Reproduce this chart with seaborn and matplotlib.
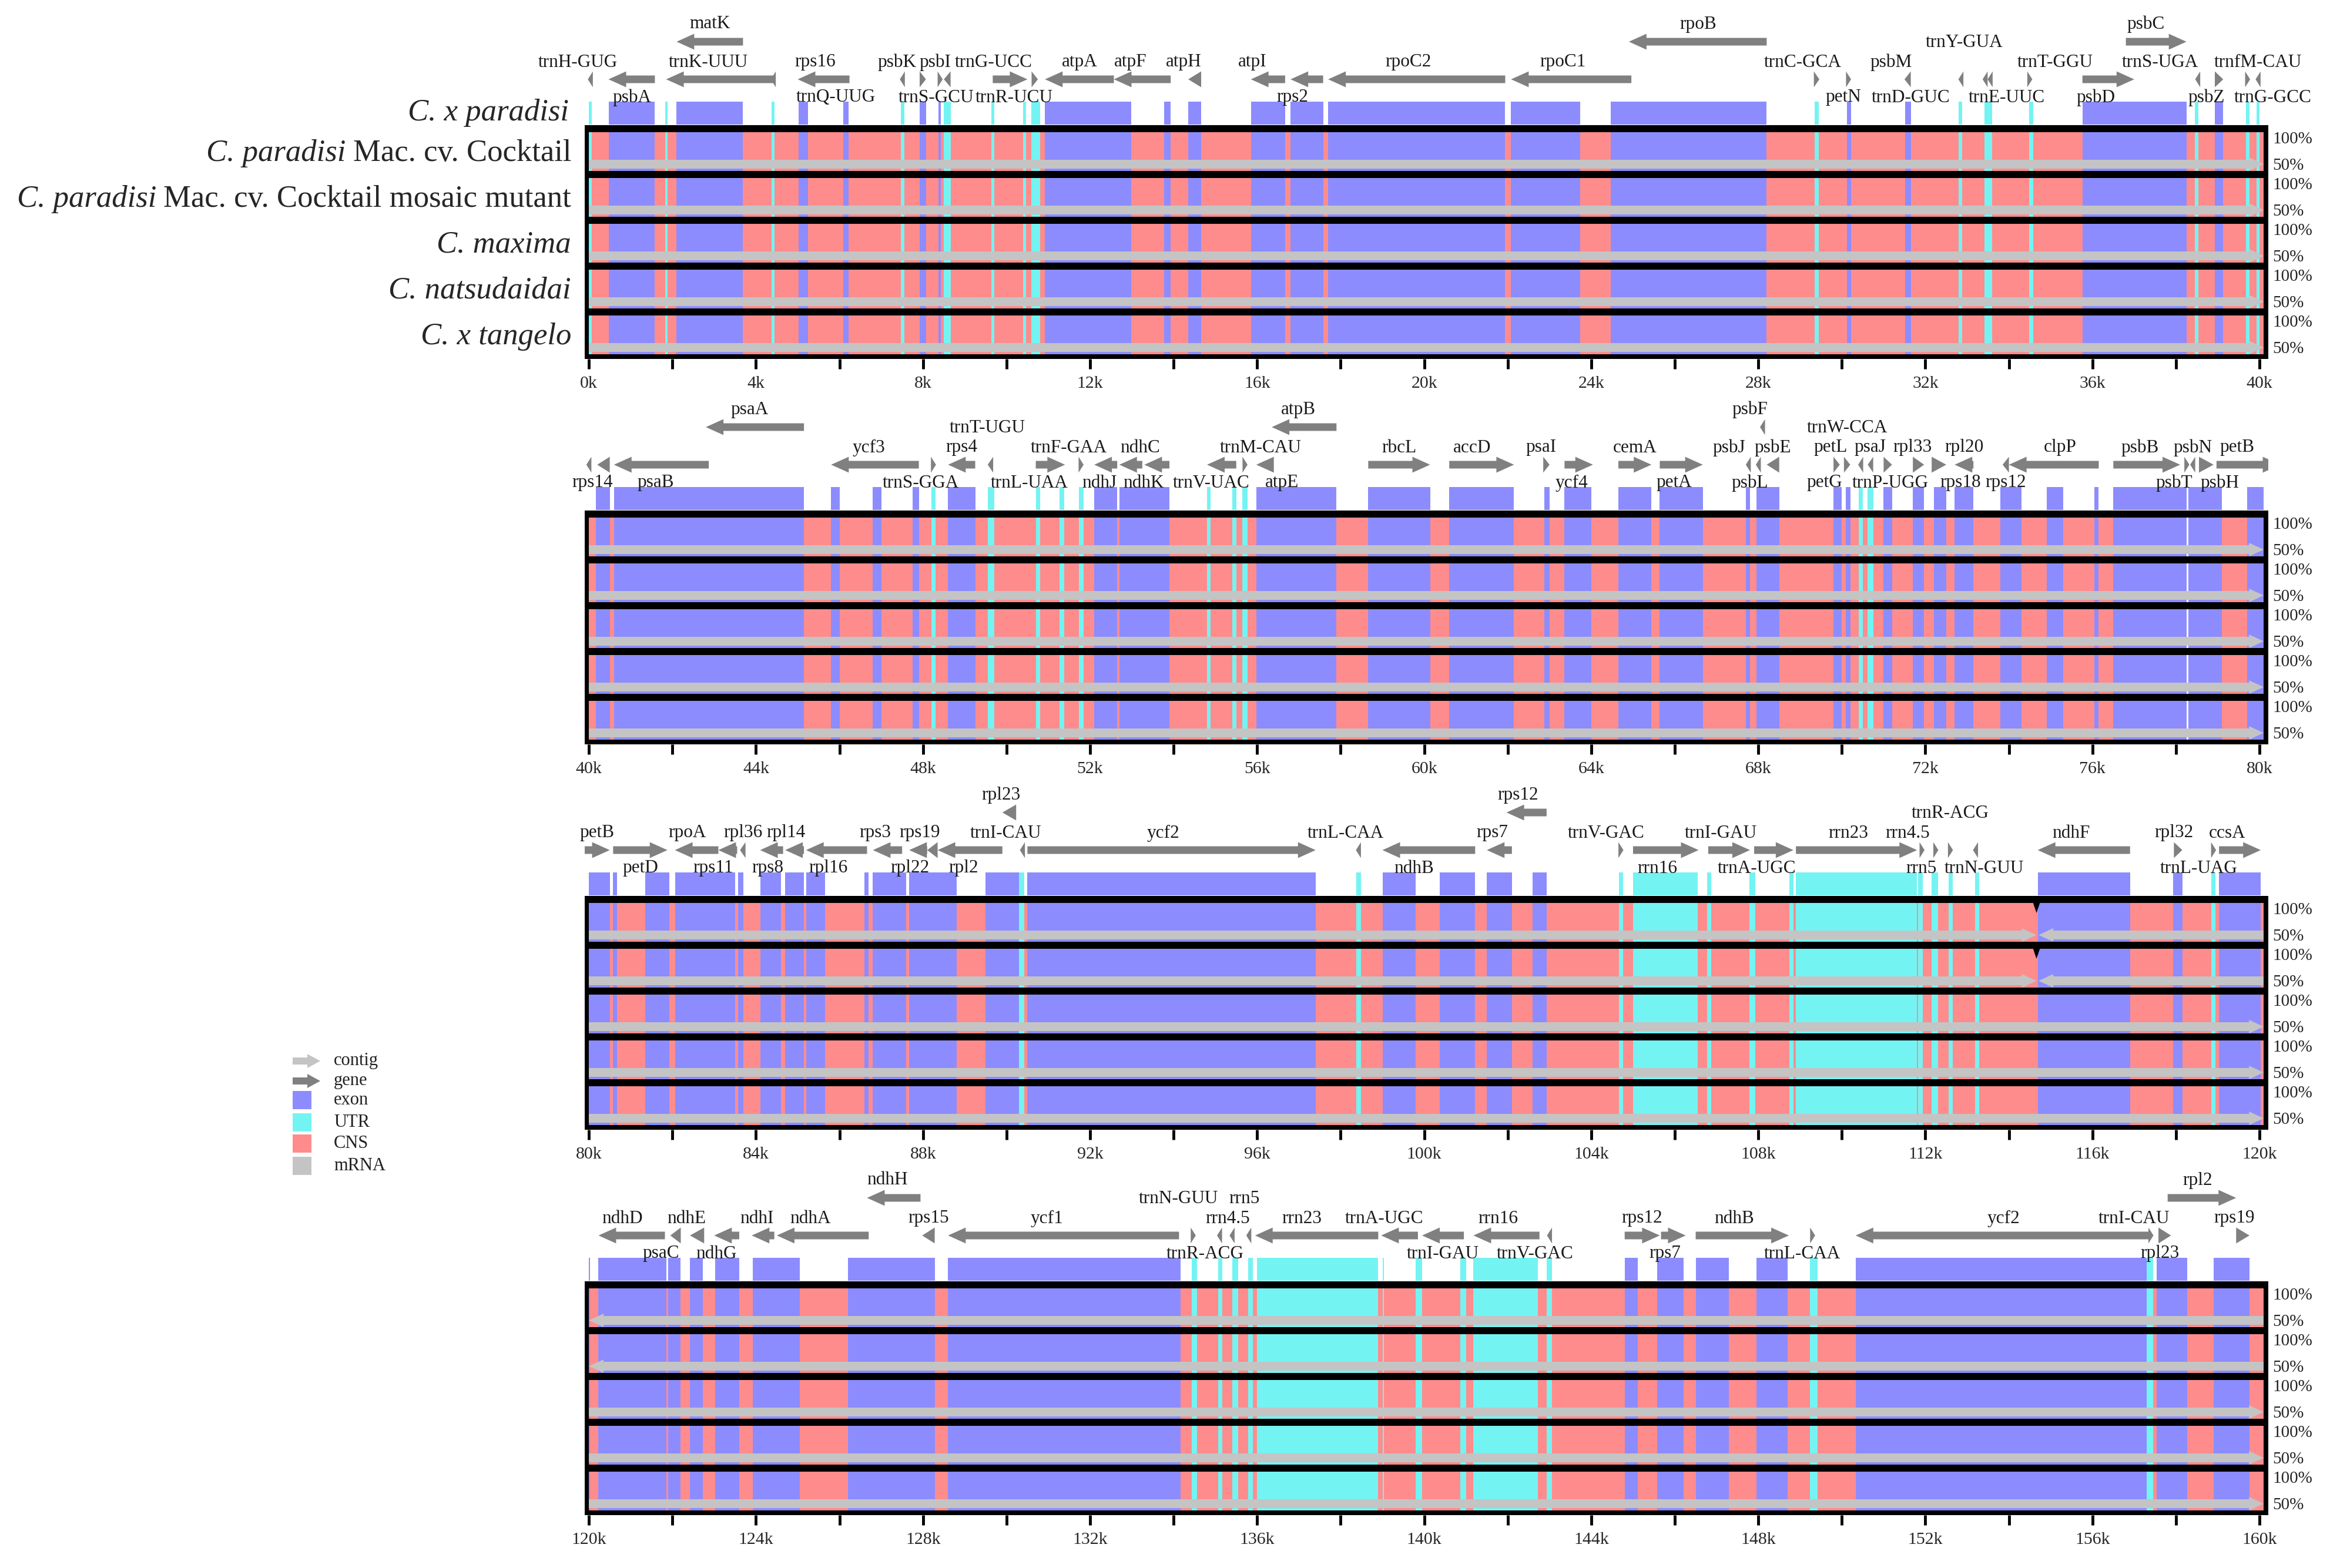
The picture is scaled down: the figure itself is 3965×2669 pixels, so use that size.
import matplotlib
matplotlib.use("Agg")
import matplotlib.pyplot as plt
from matplotlib.patches import Polygon, Rectangle
import numpy as np
import seaborn as sns

# ---------------- data (positions in kb) ----------------
PANEL_STARTS = [0, 40, 80, 120]
REFERENCE = "C. x paradisi"
SPECIES = [("C. paradisi", "Mac. cv. Cocktail"),
           ("C. paradisi", "Mac. cv. Cocktail mosaic mutant"),
           ("C. maxima", ""),
           ("C. natsudaidai", ""),
           ("C. x tangelo", "")]
LEGEND_LABELS = ["contig", "gene", "exon", "UTR", "CNS", "mRNA"]

EXONS = [
    (0.47, 1.57), (2.1, 3.69), (5.02, 5.25), (6.09, 6.22), (7.92, 8.07), (8.37, 8.43),
    (10.92, 12.99), (13.77, 13.93), (14.35, 14.66), (15.85, 16.67), (16.8, 17.58),
    (17.7, 21.94), (22.08, 23.73), (24.47, 28.2), (30.12, 30.22), (31.52, 31.65),
    (35.76, 38.25), (38.93, 39.13),
    (40.17, 40.5), (40.6, 45.15), (45.8, 46.0), (46.8, 47.0), (47.75, 47.9), (48.6, 49.25),
    (52.1, 52.65), (52.7, 53.9), (55.98, 57.9), (58.66, 60.14), (60.6, 62.15), (62.87, 63.0),
    (63.36, 64.0), (64.65, 65.44), (65.64, 66.67), (67.7, 67.8), (67.95, 68.5), (69.8, 70.0),
    (70.1, 70.2), (71.0, 71.2), (71.7, 71.97), (72.2, 72.5), (72.7, 73.15), (73.8, 74.3),
    (74.9, 75.3), (76.05, 76.15), (76.5, 78.25), (78.3, 79.1), (79.7, 80.5),
    (80.58, 80.67), (81.35, 81.92), (82.06, 83.5), (83.57, 83.7), (84.1, 84.6), (84.7, 85.15),
    (85.2, 85.65), (86.6, 86.7), (86.8, 87.6), (87.67, 88.8), (89.5, 90.3), (90.5, 97.4),
    (99.0, 99.8), (100.37, 101.22), (101.5, 102.1), (102.6, 102.93), (114.69, 116.9),
    (117.93, 118.15), (119.03, 120.03),
    (120.23, 121.85), (121.9, 122.2), (122.42, 122.73), (123.03, 123.6), (123.92, 125.05),
    (126.2, 128.28), (128.6, 134.16), (144.8, 145.12), (145.58, 146.21), (146.5, 147.3),
    (147.95, 148.7), (150.33, 157.3), (157.54, 158.27), (158.9, 159.76),
]

UTRS = [
    (0.0, 0.07), (1.83, 1.89), (4.38, 4.45), (7.47, 7.56), (8.5, 8.66), (9.64, 9.7),
    (10.4, 10.46), (10.6, 10.8), (29.35, 29.45), (32.79, 32.88), (33.41, 33.6),
    (34.49, 34.58), (38.45, 38.54), (39.68, 39.76), (39.93, 40.0),
    (48.2, 48.3), (49.55, 49.7), (50.7, 50.8), (51.27, 51.38), (51.73, 51.84),
    (54.8, 54.88), (55.4, 55.5), (55.65, 55.77), (70.4, 70.5), (70.62, 70.75),
    (90.3, 90.43), (98.37, 98.48), (104.66, 104.76), (105.0, 106.55), (106.77, 106.87),
    (107.79, 107.93), (108.74, 108.84), (108.9, 111.8), (111.83, 111.93), (112.15, 112.3),
    (112.55, 112.65), (113.19, 113.29), (118.85, 118.95),
    (134.43, 134.56), (135.07, 135.17), (135.4, 135.55), (135.79, 135.9), (136.0, 138.9),
    (139.0, 139.04), (139.8, 139.95), (140.86, 141.0), (141.18, 142.72), (142.93, 143.06),
    (149.24, 149.42), (157.3, 157.45),
]

GAPS = [(78.25, 78.3)]

CONTIG_BREAK = 114.66
REVERSED_TRACKS = [0, 1]

# (name, start, end, strand, arrow row, label level)
GENES_P1 = [
    ("trnH-GUG", 0.0, 0.07, -1, "lo", "above"), ("psbA", 0.47, 1.58, -1, "lo", "below"),
    ("trnK-UUU", 1.85, 4.46, -1, "lo", "above"), ("matK", 2.1, 3.69, -1, "up", "top"),
    ("trnQ-UUG", 4.38, 4.45, -1, "lo", "below"), ("rps16", 5.0, 6.24, -1, "lo", "above"),
    ("psbK", 7.45, 7.56, -1, "lo", "above"), ("psbI", 7.92, 8.07, 1, "lo", "above"),
    ("trnS-GCU", 8.37, 8.45, 1, "lo", "below"), ("", 8.5, 8.66, -1, "lo", "below"),
    ("trnG-UCC", 9.67, 10.5, 1, "lo", "above"), ("trnR-UCU", 10.6, 10.75, 1, "lo", "below"),
    ("atpA", 10.92, 12.57, -1, "lo", "above"), ("atpF", 12.57, 13.93, -1, "lo", "above"),
    ("atpH", 14.35, 14.66, -1, "lo", "above"), ("atpI", 15.85, 16.67, -1, "lo", "above"),
    ("rps2", 16.8, 17.58, -1, "lo", "below"), ("rpoC2", 17.7, 21.94, -1, "lo", "above"),
    ("rpoC1", 22.08, 24.96, -1, "lo", "above"), ("rpoB", 24.9, 28.2, -1, "up", "top"),
    ("trnC-GCA", 29.33, 29.46, 1, "lo", "above"), ("petN", 30.1, 30.22, 1, "lo", "below"),
    ("psbM", 31.5, 31.65, -1, "lo", "above"), ("trnD-GUC", 32.8, 32.9, -1, "lo", "below"),
    ("trnY-GUA", 33.38, 33.48, -1, "lo", "high"), ("trnE-UUC", 33.5, 33.6, -1, "lo", "below"),
    ("trnT-GGU", 34.45, 34.55, 1, "lo", "above"), ("psbD", 35.76, 37.0, 1, "lo", "below"),
    ("psbC", 36.8, 38.25, 1, "up", "top"), ("trnS-UGA", 38.48, 38.56, -1, "lo", "above"),
    ("psbZ", 38.93, 39.13, 1, "lo", "below"), ("trnG-GCC", 39.68, 39.75, 1, "lo", "below"),
    ("trnfM-CAU", 39.93, 40.0, -1, "lo", "above"),
]
GENES_P2 = [
    ("", 39.95, 40.05, -1, "lo", "below"), ("rps14", 40.2, 40.5, -1, "lo", "below"),
    ("psaB", 40.6, 42.87, -1, "lo", "below"), ("psaA", 42.8, 45.15, -1, "up", "top"),
    ("ycf3", 45.8, 47.9, -1, "lo", "above"), ("trnS-GGA", 48.2, 48.3, 1, "lo", "below"),
    ("rps4", 48.6, 49.25, -1, "lo", "above"), ("trnT-UGU", 49.55, 49.68, -1, "lo", "high"),
    ("trnL-UAA", 50.7, 51.4, 1, "lo", "below"), ("trnF-GAA", 51.73, 51.84, 1, "lo", "above"),
    ("ndhJ", 52.1, 52.65, -1, "lo", "below"), ("ndhK", 52.7, 53.25, -1, "lo", "below"),
    ("ndhC", 53.3, 53.9, -1, "lo", "above"), ("trnV-UAC", 54.8, 55.5, -1, "lo", "below"),
    ("trnM-CAU", 55.65, 55.77, 1, "lo", "above"), ("atpE", 55.98, 56.4, -1, "lo", "below"),
    ("atpB", 56.35, 57.9, -1, "up", "top"), ("rbcL", 58.66, 60.14, 1, "lo", "above"),
    ("accD", 60.6, 62.15, 1, "lo", "above"), ("psaI", 62.85, 63.0, 1, "lo", "above"),
    ("ycf4", 63.36, 64.04, 1, "lo", "below"), ("cemA", 64.65, 65.44, 1, "lo", "above"),
    ("petA", 65.64, 66.67, 1, "lo", "below"), ("psbJ", 67.7, 67.82, -1, "lo", "above"),
    ("psbL", 67.95, 68.05, -1, "lo", "below"), ("psbF", 68.05, 68.15, -1, "up", "top"),
    ("psbE", 68.2, 68.5, -1, "lo", "above"), ("petL", 69.8, 69.95, 1, "lo", "above"),
    ("petG", 70.05, 70.2, 1, "lo", "below"), ("trnW-CCA", 70.4, 70.5, -1, "lo", "high"),
    ("trnP-UGG", 70.62, 70.75, -1, "lo", "below"), ("psaJ", 71.0, 71.2, 1, "lo", "above"),
    ("rpl33", 71.7, 71.97, 1, "lo", "above"), ("rps18", 72.15, 72.5, 1, "lo", "below"),
    ("rpl20", 72.7, 73.15, -1, "lo", "above"), ("rps12", 73.85, 74.0, -1, "lo", "below"),
    ("clpP", 74.0, 76.15, -1, "lo", "above"), ("psbB", 76.5, 78.1, 1, "lo", "above"),
    ("psbT", 78.2, 78.32, 1, "lo", "below"), ("psbN", 78.35, 78.45, -1, "lo", "above"),
    ("psbH", 78.55, 78.9, 1, "lo", "below"), ("petB", 78.97, 80.5, 1, "lo", "above"),
]
GENES_P3 = [
    ("petB", 78.97, 80.5, 1, "lo", "above"), ("petD", 80.58, 81.88, 1, "lo", "below"),
    ("rpoA", 82.06, 83.1, -1, "lo", "above"), ("rps11", 83.1, 83.55, -1, "lo", "below"),
    ("rpl36", 83.62, 83.75, -1, "lo", "above"), ("rps8", 84.1, 84.65, -1, "lo", "below"),
    ("rpl14", 84.7, 85.15, -1, "lo", "above"), ("rpl16", 85.2, 86.66, -1, "lo", "below"),
    ("rps3", 86.8, 87.5, -1, "lo", "above"), ("rpl22", 87.67, 88.1, -1, "lo", "below"),
    ("rps19", 88.1, 88.35, -1, "lo", "above"), ("rpl2", 88.35, 89.9, -1, "lo", "below"),
    ("rpl23", 89.9, 90.23, -1, "up", "top"), ("trnI-CAU", 90.33, 90.43, -1, "lo", "above"),
    ("ycf2", 90.5, 97.4, 1, "lo", "above"), ("trnL-CAA", 98.37, 98.48, -1, "lo", "above"),
    ("ndhB", 99.0, 101.22, -1, "lo", "below"), ("rps7", 101.5, 102.1, -1, "lo", "above"),
    ("rps12", 101.97, 102.93, -1, "up", "top"), ("trnV-GAC", 104.66, 104.76, 1, "lo", "above"),
    ("rrn16", 105.0, 106.57, 1, "lo", "below"), ("trnI-GAU", 106.8, 107.8, 1, "lo", "above"),
    ("trnA-UGC", 107.9, 108.84, 1, "lo", "below"), ("rrn23", 108.9, 111.8, 1, "lo", "above"),
    ("rrn4.5", 111.87, 111.97, 1, "lo", "above"), ("rrn5", 112.2, 112.3, 1, "lo", "below"),
    ("trnR-ACG", 112.55, 112.65, 1, "lo", "high"), ("trnN-GUU", 113.15, 113.25, -1, "lo", "below"),
    ("ndhF", 114.69, 116.9, -1, "lo", "above"), ("rpl32", 117.95, 118.15, 1, "lo", "above"),
    ("trnL-UAG", 118.85, 118.95, 1, "lo", "below"), ("ccsA", 119.03, 120.03, 1, "lo", "above"),
]
GENES_P4 = [
    ("ndhD", 120.23, 121.82, -1, "lo", "above"), ("psaC", 121.95, 122.2, -1, "lo", "below"),
    ("ndhE", 122.42, 122.76, -1, "lo", "above"), ("ndhG", 123.0, 123.6, -1, "lo", "below"),
    ("ndhI", 123.9, 124.44, -1, "lo", "above"), ("ndhA", 124.5, 126.7, -1, "lo", "above"),
    ("ndhH", 126.66, 127.94, -1, "up", "top"), ("rps15", 127.98, 128.28, -1, "lo", "above"),
    ("ycf1", 128.6, 134.13, -1, "lo", "above"), ("trnN-GUU", 134.42, 134.52, 1, "lo", "high"),
    ("trnR-ACG", 135.05, 135.15, -1, "lo", "below"), ("rrn4.5", 135.35, 135.45, -1, "lo", "above"),
    ("rrn5", 135.75, 135.85, -1, "lo", "high"), ("rrn23", 135.95, 138.9, -1, "lo", "above"),
    ("trnA-UGC", 138.97, 139.85, -1, "lo", "above"), ("trnI-GAU", 139.95, 140.95, -1, "lo", "below"),
    ("rrn16", 141.18, 142.76, -1, "lo", "above"), ("trnV-GAC", 142.95, 143.05, -1, "lo", "below"),
    ("rps12", 144.8, 145.64, 1, "lo", "above"), ("rps7", 145.67, 146.26, 1, "lo", "below"),
    ("ndhB", 146.5, 148.73, 1, "lo", "above"), ("trnL-CAA", 149.25, 149.35, 1, "lo", "below"),
    ("ycf2", 150.33, 157.4, -1, "lo", "above"), ("trnI-CAU", 157.35, 157.45, 1, "lo", "above"),
    ("rpl23", 157.58, 157.88, 1, "lo", "below"), ("rpl2", 157.8, 159.44, 1, "up", "top"),
    ("rps19", 159.44, 159.76, 1, "lo", "above"),
]
PANEL_GENES = [GENES_P1, GENES_P2, GENES_P3, GENES_P4]

# label nudges (kb) so names sit where the reference puts them
LABEL_SHIFT = {
    (0, "trnH-GUG"): -0.3, (0, "trnK-UUU"): -0.3, (0, "rps16"): -0.2, (0, "trnQ-UUG"): 1.5,
    (0, "psbK"): -0.13, (0, "psbI"): 0.3, (0, "trnS-GCU"): -0.1, (0, "trnG-UCC"): -0.4,
    (0, "trnR-UCU"): -0.5, (0, "atpF"): -0.28, (0, "atpH"): -0.27, (0, "atpI"): -0.37,
    (0, "rps2"): -0.35, (0, "rpoC2"): -0.2, (0, "rpoC1"): -0.2, (0, "trnC-GCA"): -0.33,
    (0, "petN"): -0.12, (0, "psbM"): -0.4, (0, "trnD-GUC"): -1.2, (0, "trnY-GUA"): -0.5,
    (0, "trnE-UUC"): 0.4, (0, "trnT-GGU"): 0.6, (0, "psbD"): -0.3, (0, "psbC"): -0.25,
    (0, "trnS-UGA"): -0.9, (0, "psbZ"): -0.3, (0, "trnG-GCC"): 0.6,
    (1, "rps14"): -0.26, (1, "psaB"): -0.13, (1, "psaA"): -0.13, (1, "ycf3"): -0.15,
    (1, "trnS-GGA"): -0.3, (1, "trnT-UGU"): -0.07, (1, "trnL-UAA"): -0.5, (1, "trnF-GAA"): -0.3,
    (1, "ndhJ"): -0.15, (1, "ndhK"): 0.3, (1, "ndhC"): -0.4, (1, "trnV-UAC"): -0.25,
    (1, "trnM-CAU"): 0.37, (1, "atpE"): 0.4, (1, "atpB"): -0.14, (1, "accD"): -0.23,
    (1, "psaI"): -0.13, (1, "ycf4"): -0.17, (1, "petA"): -0.17, (1, "psbJ"): -0.46,
    (1, "psbL"): -0.21, (1, "psbF"): -0.3, (1, "petL"): -0.15, (1, "petG"): -0.54,
    (1, "trnW-CCA"): -0.32, (1, "psaJ"): -0.43, (1, "trnP-UGG"): 0.47, (1, "rpl33"): -0.14,
    (1, "rps18"): 0.52, (1, "clpP"): 0.15, (1, "psbB"): -0.17, (1, "psbT"): -0.3,
    (1, "psbH"): 0.32, (1, "petB"): -0.13,
    (2, "rpoA"): -0.22, (2, "rps11"): -0.35, (2, "rpl36"): 0.0, (2, "rps8"): -0.1,
    (2, "rpl14"): -0.2, (2, "rpl16"): -0.2, (2, "rps3"): -0.3, (2, "rpl22"): -0.2,
    (2, "rps19"): -0.3, (2, "rpl2"): -0.15, (2, "rpl23"): -0.2, (2, "trnI-CAU"): -0.4,
    (2, "ycf2"): -0.2, (2, "trnL-CAA"): -0.3, (2, "ndhB"): -0.35, (2, "rps7"): -0.17,
    (2, "rps12"): -0.2, (2, "trnV-GAC"): -0.35, (2, "rrn16"): -0.2, (2, "trnI-GAU"): -0.2,
    (2, "trnA-UGC"): -0.4, (2, "rrn23"): -0.2, (2, "rrn4.5"): -0.35, (2, "rrn5"): -0.35,
    (2, "trnN-GUU"): 0.2, (2, "ndhF"): -0.3, (2, "rpl32"): -0.1, (2, "trnL-UAG"): -0.35,
    (2, "ccsA"): -0.3,
    (3, "ndhD"): -0.22, (3, "psaC"): -0.35, (3, "ndhE"): -0.25, (3, "ndhG"): -0.25,
    (3, "ndhI"): -0.15, (3, "ndhA"): -0.3, (3, "ndhH"): -0.15, (3, "ycf1"): -0.4,
    (3, "trnN-GUU"): -0.35, (3, "trnR-ACG"): -0.35, (3, "rrn4.5"): -0.1, (3, "rrn5"): -0.1,
    (3, "rrn23"): -0.35, (3, "trnA-UGC"): -0.37, (3, "rrn16"): -0.2, (3, "trnV-GAC"): -0.35,
    (3, "rps7"): -0.2, (3, "ndhB"): -0.2, (3, "trnL-CAA"): -0.25, (3, "trnI-CAU"): -0.4,
    (3, "rpl23"): -0.12, (3, "rpl2"): -0.1, (3, "rps19"): -0.2,
}

# ---------------- style / layout ----------------
sns.set_theme(style="white")
plt.rcParams['font.family'] = ['Liberation Serif', 'DejaVu Serif']

W, H, DPI = 3966, 2669, 100
C_EXON, C_UTR, C_CNS = '#8c8cff', '#74f3f3', '#ff8c8c'
C_CONTIG, C_GENE = '#c4c4c4', '#808080'
FRAME_TOPS = [213, 869, 1525, 2181]
AX_LEFT, AX_RIGHT = 995, 3860
TRACK_H, BAND, GREY_Y0, GREY_H = 78, 12, 59, 15
FRAME_H = 398
ABOVE = 215
LEVEL_Y = {'above': -107, 'below': -47, 'high': -141, 'top': -172}
ROW_Y = {'lo': -78, 'up': -142}
PX_PER_KB = (AX_RIGHT - AX_LEFT) / 40.31
GENE_FONT = 22.5


def arrow_pts(s, e, strand, y, body, head, head_len, min_len=0.12):
    if e - s < min_len:
        c = (s + e) / 2
        s, e = c - min_len / 2, c + min_len / 2
    if strand > 0:
        if e - s <= head_len:
            return [(s, y - head), (e, y), (s, y + head)]
        b = e - head_len
        return [(s, y - body), (b, y - body), (b, y - head), (e, y),
                (b, y + head), (b, y + body), (s, y + body)]
    if e - s <= head_len:
        return [(e, y - head), (s, y), (e, y + head)]
    b = s + head_len
    return [(e, y - body), (b, y - body), (b, y - head), (s, y),
            (b, y + head), (b, y + body), (e, y + body)]


def clip_spans(spans, lo, hi):
    out = []
    for a, b in spans:
        a2, b2 = max(a, lo), min(b, hi)
        if b2 > a2:
            out.append((a2, b2 - a2))
    return out


fig = plt.figure(figsize=(W / DPI, H / DPI), dpi=DPI)
fig.patch.set_facecolor('white')

for p, s in enumerate(PANEL_STARTS):
    top = FRAME_TOPS[p]
    ax = fig.add_axes([AX_LEFT / W, 1 - (top + FRAME_H) / H,
                       (AX_RIGHT - AX_LEFT) / W, (FRAME_H + ABOVE) / H])
    x0, x1 = s - 0.1, s + 40.21
    inner_lo, inner_hi = s, s + 40.1
    ax.set_xlim(x0, x1)
    ax.set_ylim(FRAME_H, -ABOVE)
    ax.set_facecolor('none')

    exons = clip_spans(EXONS, inner_lo, inner_hi)
    utrs = clip_spans(UTRS, inner_lo, inner_hi)
    gaps = clip_spans(GAPS, inner_lo, inner_hi)

    # reference row (annotation blocks only)
    ax.broken_barh(exons, (-40, 39), facecolors=C_EXON, linewidth=0)
    ax.broken_barh(utrs, (-40, 39), facecolors=C_UTR, linewidth=0)

    # comparison tracks
    for t in range(5):
        ty = t * TRACK_H
        ax.broken_barh([(inner_lo, inner_hi - inner_lo)], (ty + BAND, TRACK_H - BAND),
                       facecolors=C_CNS, linewidth=0)
        ax.broken_barh(exons, (ty + BAND, TRACK_H - BAND), facecolors=C_EXON, linewidth=0)
        ax.broken_barh(utrs, (ty + BAND, TRACK_H - BAND), facecolors=C_UTR, linewidth=0)
        ax.broken_barh(gaps, (ty + BAND, TRACK_H - BAND), facecolors='white', linewidth=0)

        # contig arrows (mRNA grey)
        if t in REVERSED_TRACKS and inner_hi > CONTIG_BREAK:
            pieces = []
            if inner_lo < CONTIG_BREAK:
                pieces.append((inner_lo, CONTIG_BREAK, 1))
                pieces.append((CONTIG_BREAK + 0.05, inner_hi, -1))
            else:
                pieces.append((inner_lo, inner_hi, -1))
        else:
            pieces = [(inner_lo, inner_hi, 1)]
        yc = ty + GREY_Y0 + GREY_H / 2
        for a, b, d in pieces:
            ax.add_patch(Polygon(arrow_pts(a, b, d, yc, GREY_H / 2, 11.5, 25 / PX_PER_KB),
                                 closed=True, facecolor=C_CONTIG, edgecolor='none'))

        # black separator band
        ax.add_patch(Rectangle((x0, ty), x1 - x0, BAND, facecolor='black', edgecolor='none'))
        if t in REVERSED_TRACKS and inner_lo < CONTIG_BREAK < inner_hi:
            ax.add_patch(Polygon([(CONTIG_BREAK - 0.1, ty + 8), (CONTIG_BREAK + 0.1, ty + 8),
                                  (CONTIG_BREAK, ty + 29)], closed=True,
                                 facecolor='black', edgecolor='none'))

        ax.text(s + 40.31, ty + 24, "100%", ha='left', va='center', fontsize=21, clip_on=False)
        ax.text(s + 40.31, ty + 69, "50%", ha='left', va='center', fontsize=21, clip_on=False)

    # frame bottom and sides
    ax.add_patch(Rectangle((x0, FRAME_H - 8), x1 - x0, 8, facecolor='black', edgecolor='none'))
    ax.add_patch(Rectangle((x0, 0), inner_lo - x0, FRAME_H, facecolor='black', edgecolor='none'))
    ax.add_patch(Rectangle((inner_hi, 0), x1 - inner_hi, FRAME_H, facecolor='black',
                           edgecolor='none'))

    # genes
    for name, gs, ge, strand, row, level in PANEL_GENES[p]:
        ax.add_patch(Polygon(arrow_pts(gs, ge, strand, ROW_Y[row], 6.5, 13.5, 30 / PX_PER_KB),
                             closed=True, facecolor=C_GENE, edgecolor='none'))
        if name:
            vis_lo, vis_hi = max(gs, x0), min(ge, x1)
            lx = (vis_lo + vis_hi) / 2 + LABEL_SHIFT.get((p, name), 0.0)
            ax.text(lx, LEVEL_Y[level], name, ha='center', va='center', fontsize=GENE_FONT,
                    color='#1a1a1a', clip_on=False)

    # axis ticks
    major = np.arange(s, s + 40.01, 4)
    ax.set_xticks(major)
    ax.set_xticklabels([f"{int(v)}k" for v in major])
    ax.set_xticks(np.arange(s + 2, s + 40, 4), minor=True)
    ax.tick_params(axis='x', which='both', bottom=True, direction='out', length=12,
                   width=3.5, color='black', labelsize=21.5, pad=9)
    ax.set_yticks([])
    ax.grid(False)
    sns.despine(ax=ax, left=True, bottom=True)

# overlay in pixel coordinates: species names and legend
ov = fig.add_axes([0, 0, 1, 1])
ov.set_xlim(0, W)
ov.set_ylim(H, 0)
ov.axis('off')

renderer = fig.canvas.get_renderer()
top = FRAME_TOPS[0]
ov.text(968, top - 21, REFERENCE, ha='right', va='center', fontsize=38, style='italic')
for t, (ital, roman) in enumerate(SPECIES):
    y = top + t * TRACK_H + 48
    xr = 972
    if roman:
        txt = ov.text(xr, y, roman, ha='right', va='center', fontsize=38)
        bb = txt.get_window_extent(renderer)
        xr = bb.x0 - 12
    ov.text(xr, y, ital, ha='right', va='center', fontsize=38, style='italic')

# legend
leg_y = [1806, 1840, 1872, 1910, 1946, 1984]
for col, yy in zip([C_CONTIG, C_GENE], leg_y[:2]):
    ov.add_patch(Polygon([(498, yy - 6), (523, yy - 6), (523, yy - 12), (545, yy),
                          (523, yy + 12), (523, yy + 6), (498, yy + 6)],
                         closed=True, facecolor=col, edgecolor='none'))
for col, yy in zip([C_EXON, C_UTR, C_CNS, C_CONTIG], leg_y[2:]):
    ov.add_patch(Rectangle((498, yy - 15), 32, 31, facecolor=col, edgecolor='none'))
for lab, yy in zip(LEGEND_LABELS, leg_y):
    ov.text(568, yy, lab, ha='left', va='center', fontsize=22, color='#222222')

fig.savefig('out.png', dpi=DPI, facecolor='white')
